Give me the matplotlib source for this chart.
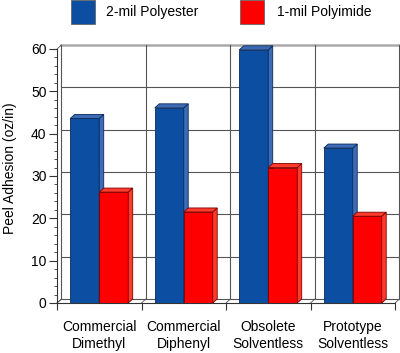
import matplotlib
matplotlib.use("Agg")
import matplotlib.pyplot as plt
from matplotlib.patches import Polygon, Rectangle

plt.rcParams['font.family'] = ['Liberation Sans', 'DejaVu Sans']

categories = ["Commercial\nDimethyl", "Commercial\nDiphenyl", "Obsolete\nSolventless", "Prototype\nSolventless"]
series_names = ["2-mil Polyester", "1-mil Polyimide"]
polyester = [43.6, 46.1, 59.8, 36.6]
polyimide = [26.2, 21.5, 32.0, 20.5]

# colours: front, side/top, edge
blue = ("#0b4ea2", "#3d6bb5", "#0a2a5a")
red = ("#ff0000", "#ff3b2b", "#7a0000")

W, H = 400, 353
fig = plt.figure(figsize=(W / 100, H / 100), dpi=100)
ax = fig.add_axes([57 / W, (H - 303) / H, 338 / W, 254 / H])

n = len(categories)
ax.set_xlim(0, n)
ax.set_ylim(0, 60)

# depth offset of the fake 3d box (data units)
dx, dy = 0.053, 0.95
bw = 0.343
gap = 0.157

# back wall
grid_c = "#555555"
for v in range(0, 61, 10):
    col, lw = (grid_c, 0.8) if v < 60 else ("#aaaaaa", 1.8)
    ax.plot([dx, n + dx], [v + dy, v + dy], color=col, lw=lw, zorder=1, clip_on=False)
    if v in (0, 60):
        ax.plot([0, dx], [v, v + dy], color=grid_c, lw=0.6, zorder=1, clip_on=False)
for i in range(n + 1):
    ax.plot([i + dx, i + dx], [dy, 60 + dy], color=grid_c, lw=0.8, zorder=1, clip_on=False)
    ax.plot([i, i + dx], [0, dy], color=grid_c, lw=0.6, zorder=1, clip_on=False)


def draw_bars(xs, vals, cols):
    front, shade, edge = cols
    ax.bar(xs, vals, width=bw, align='edge', color=front, edgecolor=edge, lw=0.6, zorder=3)
    for x, v in zip(xs, vals):
        side = [(x + bw, 0), (x + bw + dx, dy), (x + bw + dx, v + dy), (x + bw, v)]
        top = [(x, v), (x + bw, v), (x + bw + dx, v + dy), (x + dx, v + dy)]
        for pts in (side, top):
            ax.add_patch(Polygon(pts, closed=True, facecolor=shade, edgecolor=edge,
                                 lw=0.6, zorder=3, clip_on=False))


draw_bars([i + gap for i in range(n)], polyester, blue)
draw_bars([i + gap + bw for i in range(n)], polyimide, red)

# axes styling
for s in ("top", "right"):
    ax.spines[s].set_visible(False)
for s in ("left", "bottom"):
    ax.spines[s].set_color("#333333")
    ax.spines[s].set_linewidth(0.8)

ax.set_yticks(range(0, 61, 10))
ax.set_yticks(range(0, 61, 2), minor=True)
ax.tick_params(axis='y', which='major', length=6, width=0.8, pad=1.5, labelsize=10, color="#333333")
ax.tick_params(axis='y', which='minor', length=2.5, width=0.6, color="#333333")

ax.set_xticks([i + 0.5 for i in range(n)])
ax.set_xticklabels(categories, linespacing=1.2)
ax.set_xticks(range(n + 1), minor=True)
ax.tick_params(axis='x', which='major', length=0, pad=12.5, labelsize=10)
ax.tick_params(axis='x', which='minor', length=5, width=0.8, color="#333333")

fig.text(10 / W, 1 - 168 / H, "Peel Adhesion (oz/in)", rotation=90, ha='center', va='center', fontsize=10)

# legend
for x0, tx, name, cols in ((70.5, 106, series_names[0], blue), (240.5, 277, series_names[1], red)):
    fig.add_artist(Rectangle((x0 / W, 1 - 24 / H), 24 / W, 24 / H, transform=fig.transFigure,
                             facecolor=cols[0], edgecolor="#666666", lw=0.6))
    fig.text(tx / W, 1 - 12 / H, name, ha='left', va='center', fontsize=10)

fig.savefig("out.png", dpi=100)
